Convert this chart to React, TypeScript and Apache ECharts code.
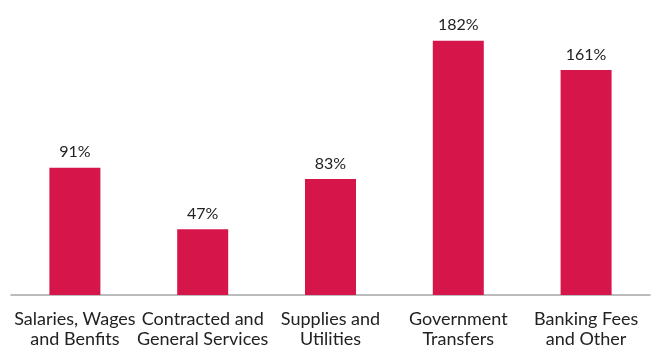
import React, { useEffect, useRef } from "react";
import * as echarts from "echarts";

const categories = [
  "Salaries, Wages\nand Benfits",
  "Contracted and\nGeneral Services",
  "Supplies and\nUtilities",
  "Government\nTransfers",
  "Banking Fees\nand Other",
];
const values = [91, 47, 83, 182, 161];

export default function App() {
  const ref = useRef<HTMLDivElement>(null);
  useEffect(() => {
    if (!ref.current) return;
    const chart = echarts.init(ref.current, null, { renderer: "svg" });
    chart.setOption({
      animation: false,
      grid: { left: 11, right: 5, top: 15.5, bottom: 52.5 },
      xAxis: {
        type: "category",
        data: categories,
        axisLine: { lineStyle: { color: "#A6A6A6", width: 1.5 } },
        axisTick: { show: false },
        axisLabel: {
          color: "#222",
          fontFamily: "Lato",
          fontSize: 18,
          lineHeight: 20,
          margin: 13,
          interval: 0,
        },
      },
      yAxis: {
        type: "value",
        min: 0,
        max: 200,
        show: false,
        splitLine: { show: false },
      },
      series: [
        {
          type: "bar",
          data: values,
          barWidth: 51,
          itemStyle: { color: "#D6164B" },
          label: {
            show: true,
            position: "top",
            distance: 9,
            formatter: "{c}%",
            color: "#222",
            fontFamily: "Lato",
            fontSize: 16,
          },
        },
      ],
    });
    return () => chart.dispose();
  }, []);
  return (
    <div
      ref={ref}
      style={{ position: "fixed", top: 0, left: 0, width: 655, height: 348 }}
    />
  );
}
